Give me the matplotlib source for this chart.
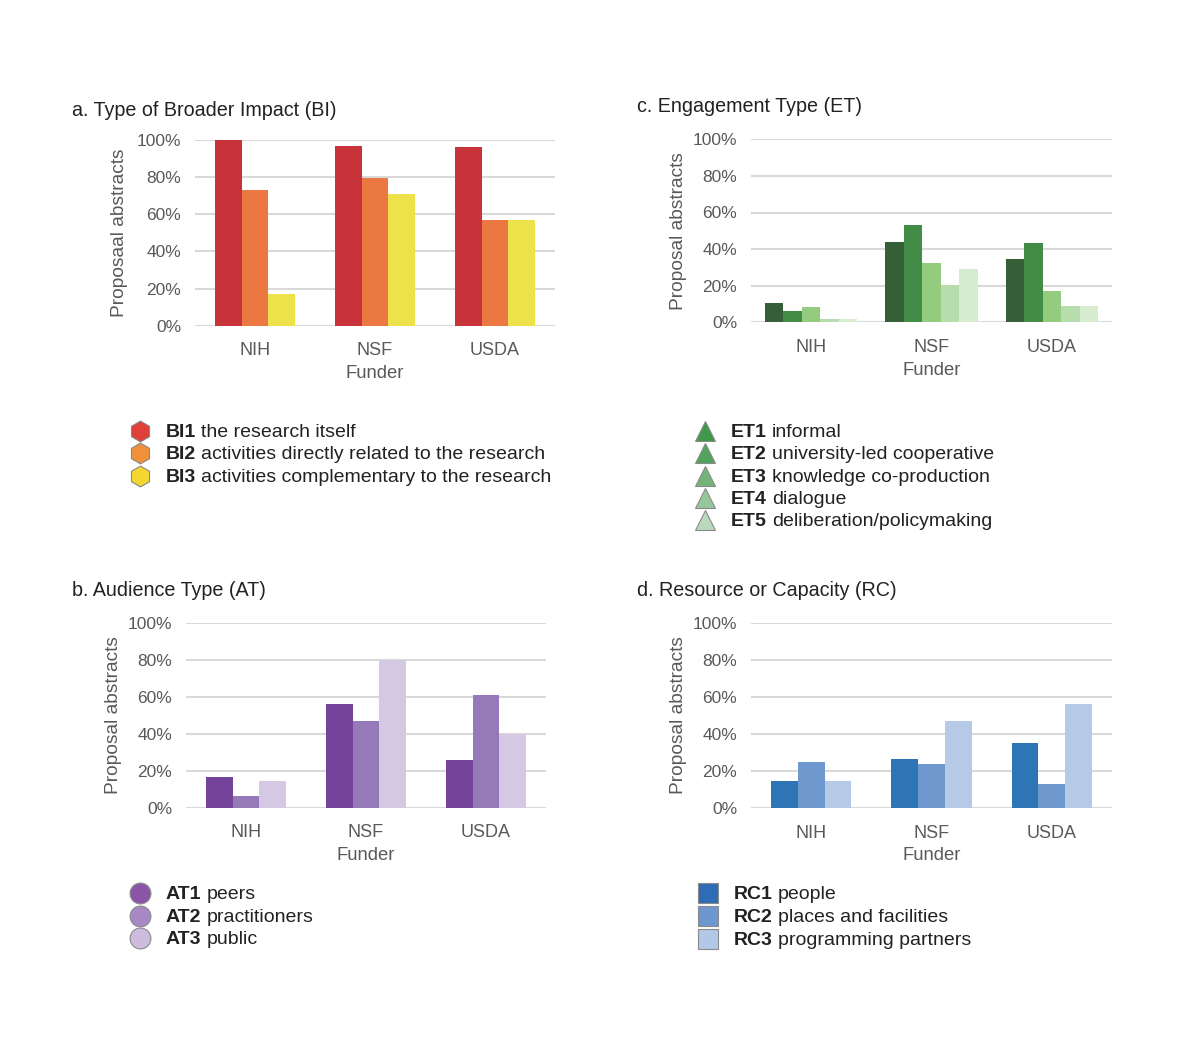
import numpy as np
import matplotlib
matplotlib.use("Agg")
import matplotlib.pyplot as plt
from matplotlib.ticker import PercentFormatter

plt.rcParams['font.family'] = ['Liberation Sans', 'DejaVu Sans']

funders = ["NIH", "NSF", "USDA"]

# a. Type of Broader Impact
bi_codes = ["BI1", "BI2", "BI3"]
bi_labels = ["the research itself", "activities directly related to the research",
             "activities complementary to the research"]
bi1 = [100, 97, 96]
bi2 = [73, 79.5, 57]
bi3 = [17, 71, 57]

# b. Audience Type
at_codes = ["AT1", "AT2", "AT3"]
at_labels = ["peers", "practitioners", "public"]
at1 = [16.6, 56, 26]
at2 = [6.1, 47, 61]
at3 = [14.6, 79.8, 39.8]

# c. Engagement Type
et_codes = ["ET1", "ET2", "ET3", "ET4", "ET5"]
et_labels = ["informal", "university-led cooperative", "knowledge co-production",
             "dialogue", "deliberation/policymaking"]
et1 = [10.4, 44.1, 34.8]
et2 = [6.2, 53, 43.5]
et3 = [8.2, 32.4, 17.3]
et4 = [2.0, 20.6, 8.7]
et5 = [2.0, 29.3, 8.7]

# d. Resource or Capacity
rc_codes = ["RC1", "RC2", "RC3"]
rc_labels = ["people", "places and facilities", "programming partners"]
rc1 = [14.4, 26.5, 35]
rc2 = [24.9, 23.8, 13.2]
rc3 = [14.4, 47.2, 56.4]

W, H = 1200, 1064
fig = plt.figure(figsize=(W / 100, H / 100), dpi=100)
TICK_C = "#595959"
TXT_C = "#222222"


def px_axes(x0, y0, x1, y1):
    return fig.add_axes([x0 / W, 1 - y1 / H, (x1 - x0) / W, (y1 - y0) / H])


def bar_panel(ax, series, colors, group_w, ylabel, ypad=6):
    n = len(series)
    bw = group_w / n
    x = np.arange(len(funders))
    for i, (vals, c) in enumerate(zip(series, colors)):
        ax.bar(x - group_w / 2 + bw * (i + 0.5), vals, width=bw, color=c, zorder=3)
    ax.set_xlim(-0.5, len(funders) - 0.5)
    ax.set_ylim(0, 100)
    ax.set_yticks([0, 20, 40, 60, 80, 100])
    ax.yaxis.set_major_formatter(PercentFormatter(decimals=0))
    ax.set_xticks(x)
    ax.set_xticklabels(funders)
    ax.grid(axis="y", color="#D9D9D9", linewidth=1.5, zorder=0)
    ax.set_axisbelow(True)
    for s in ax.spines.values():
        s.set_visible(False)
    ax.tick_params(length=0, labelsize=12.5, colors=TICK_C)
    ax.tick_params(axis="x", pad=12, labelsize=13)
    ax.tick_params(axis="y", pad=10)
    ax.set_xlabel("Funder", fontsize=13.3, color=TICK_C, labelpad=4)
    ax.set_ylabel(ylabel, fontsize=13.8, color=TICK_C, labelpad=ypad)


def legend(x, y0, dy, marker, codes, labels, colors, msize):
    r = fig.canvas.get_renderer()
    for i, (code, lab, c) in enumerate(zip(codes, labels, colors)):
        y = y0 + i * dy
        fig.lines.append(plt.Line2D([x / W], [1 - y / H], transform=fig.transFigure,
                                    marker=marker, markersize=msize, color=c,
                                    markeredgecolor="#8a8a8a", markeredgewidth=0.8,
                                    linestyle="none"))
        ty = 1 - (y + 1.5) / H
        t = fig.text((x + 26) / W, ty, code, fontsize=14, fontweight="bold",
                     color=TXT_C, va="center", ha="left")
        bb = t.get_window_extent(renderer=r)
        fig.text(bb.x1 / W + 5 / W, ty, lab, fontsize=14, color=TXT_C,
                 va="center", ha="left")


# panel a
ax_a = px_axes(195, 140, 555, 325.7)
bar_panel(ax_a, [bi1, bi2, bi3], ["#C8323A", "#EB7840", "#EEE24A"], 0.667,
          "Proposaal abstracts")
fig.text(72 / W, 1 - 111 / H, "a. Type of Broader Impact (BI)", fontsize=14.2,
         color=TXT_C, va="center")
legend(140, 431, 22.3, "h", bi_codes, bi_labels, ["#E0403A", "#F0903A", "#F5D52F"], 15)

# panel c
ax_c = px_axes(751, 139.3, 1112, 322.3)
bar_panel(ax_c, [et1, et2, et3, et4, et5],
          ["#365E37", "#428C48", "#93CC7E", "#B8DDAC", "#D7EBCF"], 0.767,
          "Proposal abstracts", ypad=4)
fig.text(637 / W, 1 - 106 / H, "c. Engagement Type (ET)", fontsize=14.2,
         color=TXT_C, va="center")
legend(705, 431, 22.3, "^", et_codes, et_labels,
       ["#3E9A4A", "#52A45C", "#72B47A", "#95C79A", "#B9D9BC"], 15)

# panel b
ax_b = px_axes(186, 622.7, 546, 807.7)
bar_panel(ax_b, [at1, at2, at3], ["#74449A", "#9679B8", "#D4C8E2"], 0.667,
          "Proposal abstracts", ypad=4)
fig.text(72 / W, 1 - 590 / H, "b. Audience Type (AT)", fontsize=14.2,
         color=TXT_C, va="center")
legend(140, 893, 22.5, "o", at_codes, at_labels, ["#8A55A8", "#A888C4", "#CDBCDD"], 15)

# panel d
ax_d = px_axes(751, 623, 1112, 808)
bar_panel(ax_d, [rc1, rc2, rc3], ["#2E75B6", "#6F98CF", "#B6C9E6"], 0.667,
          "Proposal abstracts", ypad=4)
fig.text(637 / W, 1 - 590 / H, "d. Resource or Capacity (RC)", fontsize=14.2,
         color=TXT_C, va="center")
legend(708, 893, 22.8, "s", rc_codes, rc_labels, ["#2E6DB5", "#6C97CF", "#B3C8E7"], 15)

fig.savefig("out.png", dpi=100, facecolor="white")
